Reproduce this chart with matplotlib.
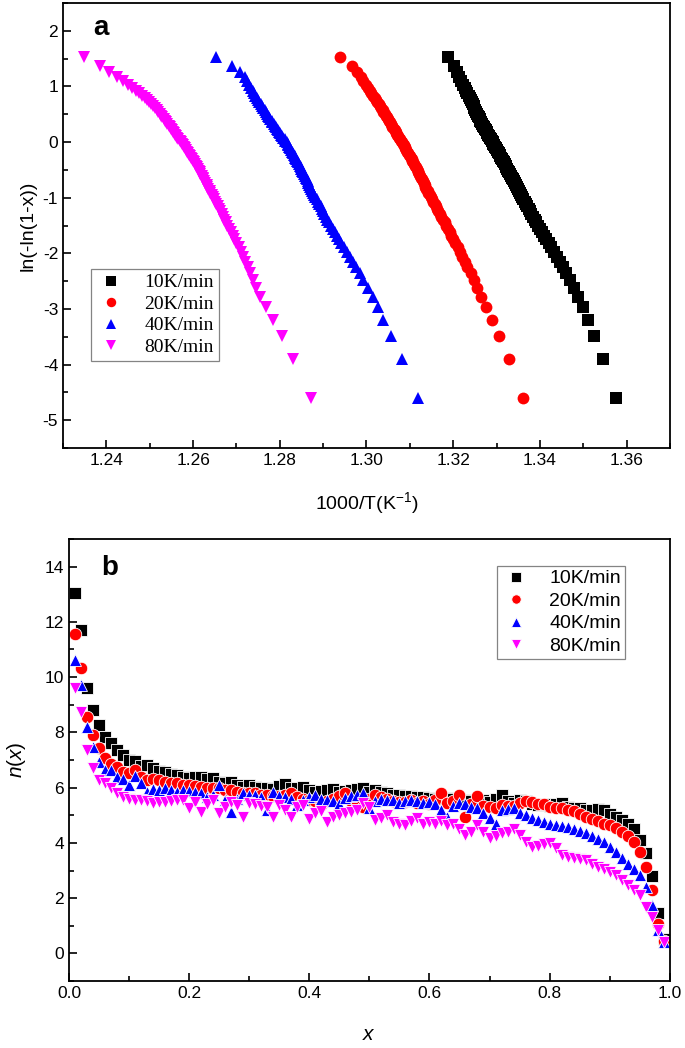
import numpy as np
import matplotlib
matplotlib.use("Agg")
import matplotlib.pyplot as plt
from matplotlib.ticker import MultipleLocator

plt.rcParams['font.family'] = ['Liberation Sans', 'DejaVu Sans']
plt.rcParams['axes.unicode_minus'] = False
plt.rcParams['mathtext.fontset'] = 'custom'
plt.rcParams['mathtext.rm'] = 'Liberation Sans'
plt.rcParams['mathtext.it'] = 'Liberation Sans:italic'

# conversion grid x (shared by both panels)
conv = np.array([
    0.01, 0.02, 0.03, 0.04, 0.05, 0.06, 0.07, 0.08, 0.09, 0.10,
    0.11, 0.12, 0.13, 0.14, 0.15, 0.16, 0.17, 0.18, 0.19, 0.20,
    0.21, 0.22, 0.23, 0.24, 0.25, 0.26, 0.27, 0.28, 0.29, 0.30,
    0.31, 0.32, 0.33, 0.34, 0.35, 0.36, 0.37, 0.38, 0.39, 0.40,
    0.41, 0.42, 0.43, 0.44, 0.45, 0.46, 0.47, 0.48, 0.49, 0.50,
    0.51, 0.52, 0.53, 0.54, 0.55, 0.56, 0.57, 0.58, 0.59, 0.60,
    0.61, 0.62, 0.63, 0.64, 0.65, 0.66, 0.67, 0.68, 0.69, 0.70,
    0.71, 0.72, 0.73, 0.74, 0.75, 0.76, 0.77, 0.78, 0.79, 0.80,
    0.81, 0.82, 0.83, 0.84, 0.85, 0.86, 0.87, 0.88, 0.89, 0.90,
    0.91, 0.92, 0.93, 0.94, 0.95, 0.96, 0.97, 0.98, 0.99])

labels = ['10K/min', '20K/min', '40K/min', '80K/min']
colors = ['black', 'red', 'blue', 'magenta']
markers = ['s', 'o', '^', 'v']

# panel a: 1000/T at each conversion
invT_10 = [
    1.3575, 1.3545, 1.3525, 1.3510, 1.3499, 1.3488, 1.3478, 1.3469, 1.3461, 1.3453,
    1.3446, 1.3439, 1.3432, 1.3426, 1.3420, 1.3415, 1.3410, 1.3405, 1.3400, 1.3396,
    1.3392, 1.3388, 1.3384, 1.3380, 1.3377, 1.3374, 1.3371, 1.3368, 1.3365, 1.3362,
    1.3359, 1.3356, 1.3354, 1.3351, 1.3349, 1.3347, 1.3344, 1.3342, 1.3340, 1.3338,
    1.3335, 1.3333, 1.3331, 1.3329, 1.3327, 1.3325, 1.3323, 1.3321, 1.3319, 1.3317,
    1.3315, 1.3313, 1.3311, 1.3309, 1.3307, 1.3305, 1.3303, 1.3301, 1.3299, 1.3297,
    1.3295, 1.3293, 1.3291, 1.3289, 1.3287, 1.3285, 1.3283, 1.3281, 1.3279, 1.3277,
    1.3275, 1.3273, 1.3271, 1.3269, 1.3267, 1.3265, 1.3263, 1.3261, 1.3259, 1.3257,
    1.3255, 1.3253, 1.3251, 1.3249, 1.3247, 1.3245, 1.3243, 1.3241, 1.3239, 1.3236,
    1.3233, 1.3230, 1.3227, 1.3223, 1.3219, 1.3214, 1.3209, 1.3202, 1.3188]
invT_20 = [
    1.3361, 1.3328, 1.3306, 1.3289, 1.3275, 1.3264, 1.3255, 1.3247, 1.3240, 1.3233,
    1.3227, 1.3221, 1.3215, 1.3210, 1.3205, 1.3200, 1.3196, 1.3192, 1.3188, 1.3184,
    1.3180, 1.3176, 1.3172, 1.3169, 1.3166, 1.3163, 1.3160, 1.3157, 1.3154, 1.3151,
    1.3148, 1.3146, 1.3143, 1.3141, 1.3138, 1.3136, 1.3134, 1.3132, 1.3130, 1.3128,
    1.3126, 1.3124, 1.3122, 1.3120, 1.3118, 1.3116, 1.3114, 1.3112, 1.3110, 1.3108,
    1.3106, 1.3104, 1.3102, 1.3100, 1.3098, 1.3096, 1.3094, 1.3092, 1.3090, 1.3088,
    1.3086, 1.3084, 1.3082, 1.3080, 1.3078, 1.3076, 1.3073, 1.3071, 1.3069, 1.3067,
    1.3065, 1.3063, 1.3060, 1.3058, 1.3056, 1.3054, 1.3051, 1.3049, 1.3047, 1.3044,
    1.3042, 1.3039, 1.3037, 1.3034, 1.3031, 1.3028, 1.3025, 1.3022, 1.3019, 1.3015,
    1.3011, 1.3007, 1.3003, 1.2998, 1.2993, 1.2987, 1.2979, 1.2967, 1.2939]
invT_40 = [
    1.3118, 1.3081, 1.3057, 1.3039, 1.3026, 1.3014, 1.3003, 1.2993, 1.2984, 1.2976,
    1.2968, 1.2961, 1.2954, 1.2948, 1.2942, 1.2937, 1.2932, 1.2927, 1.2922, 1.2918,
    1.2914, 1.2910, 1.2906, 1.2903, 1.2900, 1.2897, 1.2894, 1.2891, 1.2888, 1.2885,
    1.2882, 1.2880, 1.2877, 1.2875, 1.2872, 1.2870, 1.2868, 1.2866, 1.2864, 1.2862,
    1.2860, 1.2858, 1.2856, 1.2854, 1.2852, 1.2850, 1.2848, 1.2846, 1.2844, 1.2842,
    1.2840, 1.2838, 1.2836, 1.2834, 1.2832, 1.2830, 1.2828, 1.2826, 1.2824, 1.2822,
    1.2820, 1.2818, 1.2816, 1.2813, 1.2811, 1.2808, 1.2806, 1.2803, 1.2801, 1.2798,
    1.2796, 1.2793, 1.2791, 1.2788, 1.2786, 1.2783, 1.2781, 1.2778, 1.2776, 1.2773,
    1.2770, 1.2768, 1.2765, 1.2762, 1.2759, 1.2756, 1.2753, 1.2750, 1.2747, 1.2744,
    1.2741, 1.2738, 1.2734, 1.2730, 1.2725, 1.2719, 1.2708, 1.2689, 1.2652]
invT_80 = [
    1.2871, 1.2831, 1.2805, 1.2785, 1.2769, 1.2755, 1.2746, 1.2739, 1.2732, 1.2726,
    1.2720, 1.2715, 1.2710, 1.2705, 1.2700, 1.2695, 1.2691, 1.2687, 1.2683, 1.2679,
    1.2675, 1.2672, 1.2669, 1.2666, 1.2663, 1.2660, 1.2657, 1.2654, 1.2651, 1.2648,
    1.2645, 1.2643, 1.2640, 1.2638, 1.2635, 1.2633, 1.2631, 1.2628, 1.2626, 1.2624,
    1.2622, 1.2620, 1.2617, 1.2615, 1.2613, 1.2611, 1.2609, 1.2606, 1.2604, 1.2602,
    1.2600, 1.2597, 1.2595, 1.2593, 1.2591, 1.2588, 1.2586, 1.2584, 1.2581, 1.2579,
    1.2576, 1.2574, 1.2571, 1.2569, 1.2566, 1.2564, 1.2561, 1.2559, 1.2556, 1.2554,
    1.2551, 1.2549, 1.2546, 1.2544, 1.2541, 1.2538, 1.2535, 1.2532, 1.2529, 1.2526,
    1.2523, 1.2520, 1.2516, 1.2512, 1.2508, 1.2504, 1.2499, 1.2494, 1.2489, 1.2483,
    1.2476, 1.2468, 1.2460, 1.2450, 1.2438, 1.2424, 1.2407, 1.2385, 1.2348]

# panel b: local exponent n(x)
n_10 = [
    13.05, 11.70, 9.60, 8.80, 8.25, 7.85, 7.60, 7.38, 7.18, 7.00,
    6.95, 6.78, 6.82, 6.70, 6.60, 6.58, 6.50, 6.46, 6.40, 6.34,
    6.38, 6.40, 6.30, 6.36, 6.20, 6.15, 6.20, 6.08, 6.03, 6.08,
    6.02, 5.98, 6.00, 5.95, 6.05, 6.12, 5.98, 6.00, 6.03, 5.92,
    5.85, 5.88, 5.92, 5.96, 5.85, 5.88, 5.92, 5.95, 5.98, 5.85,
    5.90, 5.85, 5.80, 5.75, 5.72, 5.70, 5.68, 5.65, 5.66, 5.62,
    5.60, 5.58, 5.62, 5.60, 5.58, 5.55, 5.52, 5.50, 5.55, 5.48,
    5.60, 5.72, 5.50, 5.45, 5.55, 5.52, 5.42, 5.38, 5.40, 5.32,
    5.40, 5.45, 5.30, 5.28, 5.25, 5.20, 5.18, 5.22, 5.20, 5.05,
    4.92, 4.82, 4.68, 4.52, 4.10, 3.62, 2.80, 1.45, 0.52]
n_20 = [
    11.57, 10.33, 8.57, 7.90, 7.42, 7.06, 6.85, 6.76, 6.55, 6.52,
    6.64, 6.40, 6.27, 6.30, 6.27, 6.20, 6.18, 6.15, 6.10, 6.08,
    6.05, 6.03, 6.00, 5.98, 5.97, 5.92, 5.90, 5.85, 5.82, 5.79,
    5.79, 5.75, 5.72, 5.70, 5.68, 5.75, 5.79, 5.65, 5.60, 5.55,
    5.50, 5.37, 5.52, 5.60, 5.70, 5.79, 5.50, 5.40, 5.30, 5.60,
    5.73, 5.65, 5.58, 5.52, 5.49, 5.49, 5.55, 5.45, 5.50, 5.42,
    5.55, 5.79, 5.45, 5.50, 5.73, 4.94, 5.40, 5.69, 5.35, 5.30,
    5.28, 5.38, 5.32, 5.35, 5.45, 5.52, 5.49, 5.40, 5.42, 5.31,
    5.28, 5.25, 5.19, 5.15, 5.05, 4.94, 4.88, 4.80, 4.70, 4.65,
    4.55, 4.40, 4.25, 4.04, 3.67, 3.13, 2.31, 1.08, 0.45]
n_40 = [
    10.63, 9.72, 8.21, 7.48, 6.94, 6.64, 6.64, 6.40, 6.30, 6.09,
    6.42, 6.15, 5.85, 5.95, 5.91, 5.97, 5.90, 5.85, 5.91, 5.88,
    5.85, 5.80, 5.67, 5.75, 6.09, 5.55, 5.12, 5.60, 5.79, 5.75,
    5.73, 5.65, 5.19, 5.85, 5.70, 5.67, 5.60, 5.37, 5.55, 5.65,
    5.73, 5.60, 5.55, 5.50, 5.40, 5.62, 5.70, 5.75, 5.79, 5.27,
    5.50, 5.60, 5.55, 5.55, 5.45, 5.50, 5.55, 5.52, 5.45, 5.49,
    5.40, 5.20, 4.94, 5.35, 5.43, 5.40, 5.31, 5.25, 5.10, 4.90,
    4.70, 5.19, 5.22, 5.25, 5.10, 5.00, 4.90, 4.82, 4.75, 4.70,
    4.65, 4.60, 4.58, 4.50, 4.42, 4.34, 4.25, 4.15, 4.04, 3.85,
    3.67, 3.45, 3.25, 3.05, 2.83, 2.40, 1.74, 0.85, 0.41]
n_80 = [
    9.60, 8.75, 7.36, 6.70, 6.27, 6.15, 5.97, 5.79, 5.67, 5.60,
    5.55, 5.55, 5.50, 5.43, 5.49, 5.49, 5.52, 5.55, 5.55, 5.25,
    5.49, 5.12, 5.40, 5.55, 5.07, 5.30, 5.49, 5.37, 4.94, 5.45,
    5.40, 5.35, 5.30, 4.94, 5.37, 5.20, 4.94, 5.30, 5.37, 4.88,
    5.07, 5.15, 4.76, 4.94, 5.00, 5.10, 5.12, 5.20, 5.43, 5.30,
    4.82, 4.90, 5.00, 4.75, 4.70, 4.64, 4.80, 4.90, 4.70, 4.75,
    4.68, 4.80, 4.64, 4.70, 4.50, 4.28, 4.40, 4.64, 4.40, 4.16,
    4.25, 4.34, 4.40, 4.52, 4.30, 4.05, 3.86, 3.90, 3.95, 3.98,
    3.80, 3.55, 3.50, 3.45, 3.40, 3.37, 3.25, 3.13, 3.05, 2.95,
    2.83, 2.65, 2.47, 2.30, 2.10, 1.68, 1.32, 0.83, 0.41]

invT_all = [invT_10, invT_20, invT_40, invT_80]
n_all = [n_10, n_20, n_40, n_80]

# Avrami-type ordinate of panel a
lnln = np.log(-np.log(1 - conv))


def style_axes(ax):
    for s in ax.spines.values():
        s.set_linewidth(1.3)
    ax.tick_params(which='both', direction='in', top=False, right=False,
                   width=1.2, labelsize=12.5)
    ax.tick_params(which='major', length=6)
    ax.tick_params(which='minor', length=3.5)


fig = plt.figure(figsize=(6.85, 10.48), dpi=100)

# ---- panel a ----
ax1 = fig.add_axes([0.092, 0.5725, 0.886, 0.4246])
for xs, c, m, lab in zip(invT_all, colors, markers, labels):
    ax1.plot(xs, lnln, linestyle='none', marker=m, color=c, markersize=8.5,
             markeredgewidth=0, label=lab)
ax1.set_xlim(1.23, 1.37)
ax1.set_ylim(-5.5, 2.5)
ax1.xaxis.set_major_locator(MultipleLocator(0.02))
ax1.xaxis.set_minor_locator(MultipleLocator(0.01))
ax1.yaxis.set_major_locator(MultipleLocator(1))
ax1.yaxis.set_minor_locator(MultipleLocator(0.5))
ax1.xaxis.set_major_formatter(matplotlib.ticker.FormatStrFormatter('%.2f'))
style_axes(ax1)
ax1.set_xlabel('1000/T(K$^{-1}$)', fontsize=14, labelpad=16)
ax1.set_ylabel('ln(-ln(1-x))', fontsize=14, labelpad=4)
ax1.text(0.05, 0.945, 'a', transform=ax1.transAxes, fontsize=20,
         fontweight='bold', va='center', ha='left')
leg1 = ax1.legend(loc='lower left', bbox_to_anchor=(0.0456, 0.196),
                  borderaxespad=0, frameon=True, fancybox=False,
                  prop={'family': 'Liberation Serif', 'size': 14},
                  handletextpad=0.9, labelspacing=0.2, borderpad=0.25,
                  handlelength=1.6, markerscale=0.8)
leg1.get_frame().set_edgecolor('#666666')
leg1.get_frame().set_linewidth(0.9)

# ---- panel b ----
ax2 = fig.add_axes([0.1007, 0.0639, 0.877, 0.4218])
for ns, c, m, lab in zip(n_all, colors, markers, labels):
    ax2.plot(conv, ns, linestyle='none', marker=m, color=c, markersize=9,
             markeredgewidth=0.6, markeredgecolor='white', label=lab)
ax2.set_xlim(0, 1)
ax2.set_ylim(-1, 15)
ax2.xaxis.set_major_locator(MultipleLocator(0.2))
ax2.xaxis.set_minor_locator(MultipleLocator(0.1))
ax2.yaxis.set_major_locator(MultipleLocator(2))
ax2.yaxis.set_minor_locator(MultipleLocator(1))
ax2.xaxis.set_major_formatter(matplotlib.ticker.FormatStrFormatter('%.1f'))
style_axes(ax2)
ax2.set_xlabel('$x$', fontsize=15, labelpad=17)
ax2.set_ylabel('$n(x)$', fontsize=15, labelpad=12)
ax2.text(0.053, 0.935, 'b', transform=ax2.transAxes, fontsize=20,
         fontweight='bold', va='center', ha='left')
leg2 = ax2.legend(loc='upper right', bbox_to_anchor=(0.925, 0.939),
                  borderaxespad=0, frameon=True, fancybox=False,
                  prop={'size': 14}, handletextpad=0.9, labelspacing=0.25,
                  borderpad=0.2, handlelength=1.6, markerscale=0.75)
leg2.get_frame().set_edgecolor('#666666')
leg2.get_frame().set_linewidth(0.9)

fig.savefig('out.png', dpi=100)
